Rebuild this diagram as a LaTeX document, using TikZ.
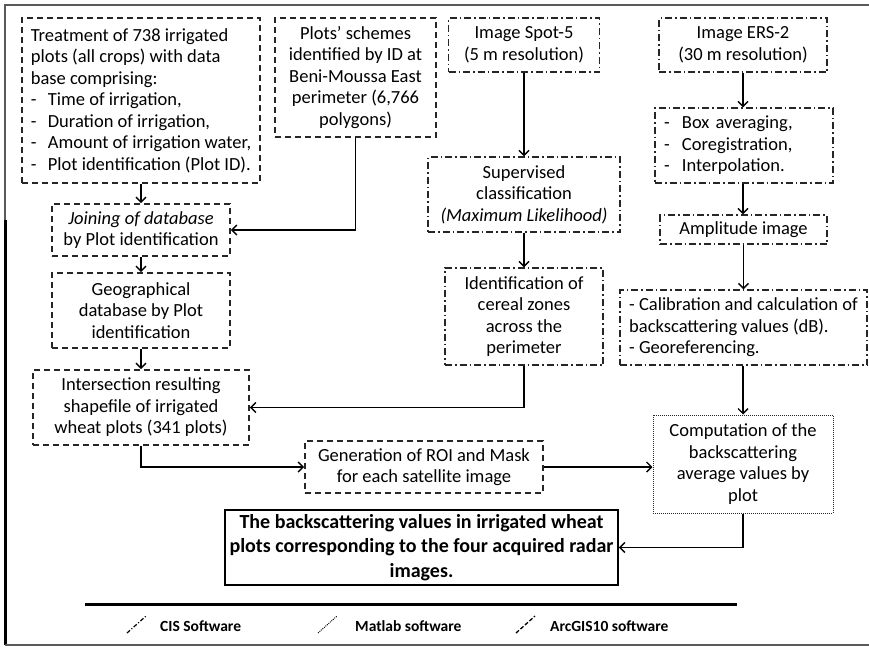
\documentclass[tikz,border=0pt]{standalone}
\usepackage{fontspec}
\setmainfont{Carlito}
\usetikzlibrary{arrows.meta}

\newcommand\itemdash[1]{\makebox[#1][l]{-}}

\begin{document}
\begin{tikzpicture}[x=1pt,y=-1pt,
  every node/.style={font=\fontsize{18.5}{21.5}\selectfont, inner sep=0pt, text=black},
  arcbox/.style={draw=black!85, line width=1.6pt, dash pattern=on 6pt off 4pt, align=center},
  cisbox/.style={draw=black!85, line width=1.4pt, dash pattern=on 7pt off 3pt on 1.5pt off 3pt, align=center},
  matbox/.style={draw=black!85, line width=1pt, dash pattern=on 1pt off 1pt, align=center},
  finalbox/.style={draw=black, line width=1.8pt, align=center,
                   font=\bfseries\fontsize{20}{24.5}\selectfont},
  arr/.style={draw=black, line width=1.4pt, -{Straight Barb[length=5pt,width=10pt]}},
  legend/.style={font=\bfseries\fontsize{15.5}{17}\selectfont, anchor=west},
  frame/.style={draw=black!65, line width=2.5pt}
]
\useasboundingbox (0,0) rectangle (869,649);

% outer frame
\draw[frame] (869,5) -- (5,5) -- (5,220);
\draw[black, line width=3pt] (5,220) -- (5,645);
\draw[frame] (5,645) -- (869,645);

% ArcGIS branch (left)
\node[arcbox, minimum width=238pt, minimum height=165pt, align=left] (A) at (141,100.5)
  {Treatment of 738 irrigated\\
   plots (all crops) with data\\
   base comprising:\\
   \itemdash{17pt}Time of irrigation,\\
   \itemdash{17pt}Duration of irrigation,\\
   \itemdash{17pt}Amount of irrigation water,\\
   \itemdash{17pt}Plot identification (Plot ID).};

\node[arcbox, minimum width=161pt, minimum height=119pt] (B) at (355.5,77.5)
  {Plots’ schemes\\ identified by ID at\\ Beni-Moussa East\\ perimeter (6,766\\ polygons)};

\node[arcbox, minimum width=178pt, minimum height=52pt] (H) at (141,230)
  {\itshape Joining of database\\ by Plot identification};

\node[arcbox, minimum width=178pt, minimum height=75pt] (I) at (141,310.5)
  {Geographical\\ database by Plot\\ identification};

\node[arcbox, minimum width=216pt, minimum height=75pt] (L) at (141,407.5)
  {Intersection resulting\\ shapefile of irrigated\\ wheat plots (341 plots)};

\node[arcbox, minimum width=238pt, minimum height=52pt] (M) at (424,467)
  {Generation of ROI and Mask\\ for each satellite image};

% CIS branch (optical and radar images)
\node[cisbox, minimum width=151pt, minimum height=54pt] (C) at (524,45)
  {Image Spot-5\\ (5 m resolution)};

\node[cisbox, minimum width=192pt, minimum height=75pt] (F) at (524,194.5)
  {Supervised\\ classification\\ \itshape (Maximum Likelihood)};

\node[cisbox, minimum width=158pt, minimum height=97pt] (J) at (524,316.5)
  {Identification of\\ cereal zones\\ across the\\ perimeter};

\node[cisbox, minimum width=168pt, minimum height=54pt] (D) at (743,45)
  {Image ERS-2\\ (30 m resolution)};

\node[cisbox, minimum width=178pt, minimum height=75pt, text width=160pt,
      inner xsep=9pt, align=left] (E) at (744,145.5)
  {\itemdash{18pt}Box averaging,\\
   \itemdash{18pt}Coregistration,\\
   \itemdash{18pt}Interpolation.};

\node[cisbox, minimum width=167pt, minimum height=29pt] (G) at (743.5,229.5)
  {Amplitude image};

\node[cisbox, minimum width=247pt, minimum height=75pt, align=left] (K) at (743.5,327.5)
  {- Calibration and calculation of\\
   backscattering values (dB).\\
   - Georeferencing.};

% Matlab step
\node[matbox, minimum width=180pt, minimum height=98pt] (N) at (743,464)
  {Computation of the\\ backscattering\\ average values by\\ plot};

% result
\node[finalbox, minimum width=393pt, minimum height=75pt] (O) at (421.5,547.5)
  {The backscattering values in irrigated wheat\\
   plots corresponding to the four acquired radar\\
   images.};

% connectors
\draw[arr] (A.south) -- (H.north);
\draw[arr] (B.south) |- (H.east);
\draw[arr] (H.south) -- (I.north);
\draw[arr] (I.south) -- (L.north);
\draw[arr] (C.south) -- (C.south |- F.north);
\draw[arr] (F.south) -- (F.south |- J.north);
\draw[arr] (J.south) |- (L.east);
\draw[arr] (D.south) -- (D.south |- E.north);
\draw[arr] (E.south -| D.south) -- (D.south |- G.north);
\draw[arr] (G.south) -- (G.south |- K.north);
\draw[arr] (K.south -| N.north) -- (N.north);
\draw[arr] (L.south) |- (M.west);
\draw[arr] (M.east) -- (M.east -| N.west);
\draw[arr] (N.south) |- (O.east);

% legend
\draw[black, line width=3pt] (85,604) -- (737,604);
\coordinate (c1) at (127,633); \coordinate (c2) at (146,616);
\draw[black, line width=1.2pt, dash pattern=on 4pt off 2pt on 1pt off 2pt] (c1) -- (c2);
\node[legend] (lcis) at (160,626) {CIS Software};
\coordinate (m1) at (318,633); \coordinate (m2) at (337,616);
\draw[black, line width=0.9pt, dash pattern=on 1pt off 1pt] (m1) -- (m2);
\node[legend] (lmat) at (355,626) {Matlab software};
\coordinate (g1) at (516,633); \coordinate (g2) at (535,616);
\draw[black, line width=1.3pt, dash pattern=on 4pt off 2pt] (g1) -- (g2);
\node[legend] (larc) at (550,626) {ArcGIS10 software};
\end{tikzpicture}
\end{document}
